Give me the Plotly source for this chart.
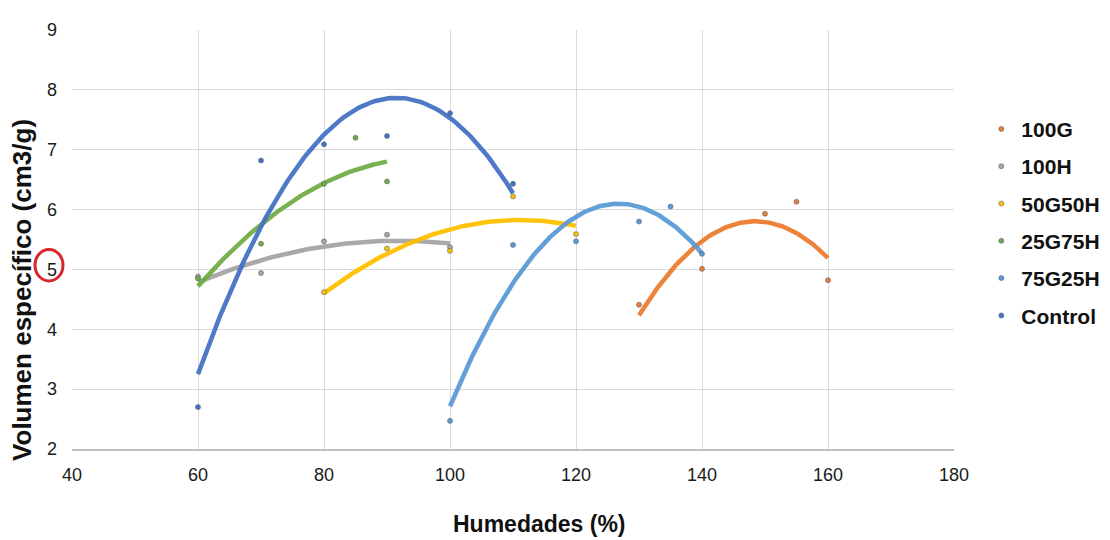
import numpy as np
import plotly.graph_objects as go

# Data (Humedades %, Volumen específico cm3/g)
series_names = ["100G", "100H", "50G50H", "25G75H", "75G25H", "Control"]
series_colors = ["#ED7D31", "#A5A5A5", "#FFC000", "#70AD47", "#5B9BD5", "#4472C4"]

x_100G = [130, 140, 150, 155, 160]
y_100G = [4.41, 5.01, 5.93, 6.13, 4.82]

x_100H = [60, 70, 80, 90, 100]
y_100H = [4.88, 4.94, 5.47, 5.58, 5.37]

x_50G50H = [80, 90, 100, 110, 120]
y_50G50H = [4.62, 5.35, 5.31, 6.22, 5.59]

x_25G75H = [60, 70, 80, 85, 90]
y_25G75H = [4.85, 5.43, 6.43, 7.20, 6.47]

x_75G25H = [100, 110, 120, 130, 135, 140]
y_75G25H = [2.47, 5.41, 5.47, 5.80, 6.05, 5.26]

x_control = [60, 70, 80, 90, 100, 110]
y_control = [2.70, 6.82, 7.09, 7.23, 7.61, 6.43]

x_ticks = [40, 60, 80, 100, 120, 140, 160, 180]
y_ticks = [2, 3, 4, 5, 6, 7, 8, 9]

xs = [x_100G, x_100H, x_50G50H, x_25G75H, x_75G25H, x_control]
ys = [y_100G, y_100H, y_50G50H, y_25G75H, y_75G25H, y_control]

fig = go.Figure()

# polynomial (order 2) trendlines, as in the original spreadsheet chart
for name, color, x, y in zip(series_names, series_colors, xs, ys):
    coef = np.polyfit(x, y, 2)
    xf = np.linspace(min(x), max(x), 120)
    fig.add_trace(go.Scatter(
        x=xf, y=np.polyval(coef, xf), mode="lines",
        line=dict(color=color, width=4.5), opacity=0.95,
        showlegend=False, hoverinfo="skip"))

for name, color, x, y in zip(series_names, series_colors, xs, ys):
    fig.add_trace(go.Scatter(
        x=x, y=y, mode="markers", name=name, legendgroup=name,
        marker=dict(color=color, size=5, line=dict(width=0.6, color="#5a6470"))))

font_family = "Liberation Sans, Arial, sans-serif"

fig.update_layout(
    width=1110, height=540,
    margin=dict(l=64, r=164, t=17, b=99),
    paper_bgcolor="white", plot_bgcolor="white",
    font=dict(family=font_family, color="#222222"),
    showlegend=True,
    legend=dict(
        x=1.031, y=0.812, xanchor="left", yanchor="top",
        font=dict(size=21, family=font_family, color="#111111", weight="bold"),
        tracegroupgap=7, bgcolor="rgba(0,0,0,0)"),
)

fig.update_xaxes(
    range=[40, 180], tickvals=x_ticks, ticks="", ticklabelstandoff=9,
    tickfont=dict(size=18, color="#1a1a1a"),
    showgrid=True, gridcolor="#D9D9D9", gridwidth=1,
    showline=True, linecolor="#BFBFBF", linewidth=1.5, zeroline=False)

fig.update_yaxes(
    range=[2, 9], tickvals=y_ticks, ticks="", ticklabelstandoff=14,
    tickfont=dict(size=18, color="#1a1a1a"),
    showgrid=True, gridcolor="#D9D9D9", gridwidth=1,
    showline=False, zeroline=False)

# axis titles
fig.add_annotation(
    text="<b>Humedades (%)</b>", xref="paper", yref="paper",
    x=(539 - 72) / 882, y=(449 - 525) / 424, xanchor="center", yanchor="middle",
    showarrow=False, font=dict(size=23, family=font_family, color="#111111"))
fig.add_annotation(
    text="<b>Volumen específico (cm3/g)</b>", xref="paper", yref="paper",
    x=(22 - 72) / 882, y=(449 - 288) / 424, xanchor="center", yanchor="middle",
    textangle=-90, showarrow=False,
    font=dict(size=26, family=font_family, color="#111111"))

# red highlight circle around the "5" tick label
fig.add_shape(
    type="circle", xref="paper", yref="paper",
    x0=(35 - 72) / 882, x1=(63 - 72) / 882,
    y0=(449 - 279) / 424, y1=(449 - 247) / 424,
    line=dict(color="#D9262B", width=3))

fig.write_html("out.html")
